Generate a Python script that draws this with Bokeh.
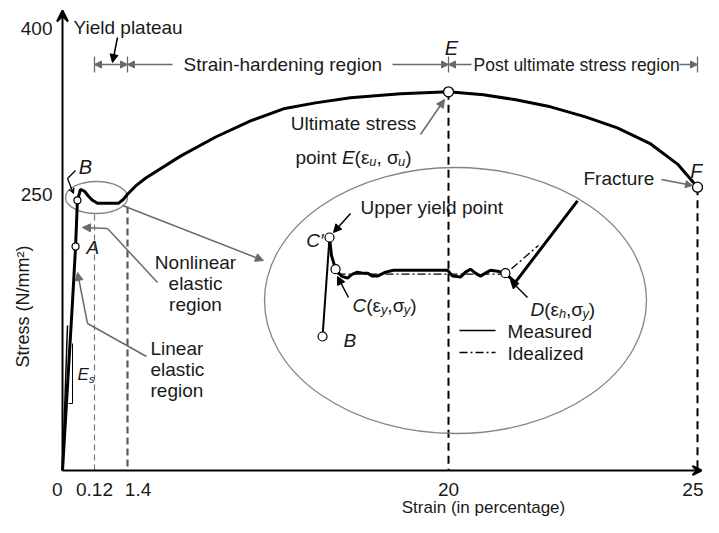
import numpy as np
from bokeh.plotting import figure
from bokeh.models import Range1d, Arrow, VeeHead, NormalHead, Label, FixedTicker
from bokeh.embed import file_html
from bokeh.resources import INLINE

# ---------------- data ----------------
strain_ticks = [0, 0.12, 1.4, 20, 25]
strain_tick_labels = ["0", "0.12", "1.4", "20", "25"]
stress_ticks = [250, 400]

# measured stress-strain curve (strain in %, stress in N/mm2)
curve_strain = [0, 0.0375, 0.049, 0.0525, 0.056, 0.0675, 0.0825, 0.0975, 0.1125, 0.236,
                1.047, 1.245, 1.4, 1.86, 2.44, 4.47, 6.51, 8.53, 10.44, 12.29, 14.32,
                17.22, 20.0, 20.7, 21.35, 22.05, 22.75, 23.39, 24.06, 24.6, 25.0]
curve_stress = [0, 152.7, 202.7, 223.6, 244.5, 254.5, 252.7, 248.2, 244.5, 241.8,
                241.8, 245.5, 250.0, 257.3, 264.5, 284.5, 301.8, 316.4, 327.3, 332.7, 337.3,
                340.9, 342.7, 340.0, 335.5, 329.1, 320.0, 310.0, 295.5, 277.3, 256.4]

# marked points on main curve
pt_names = ["A", "B", "E", "F"]
pt_strain = [0.049, 0.056, 20.0, 25.0]
pt_stress = [202.7, 244.5, 342.7, 256.4]

# magnified yield-plateau (inset)
inset_meas_strain = [0.066, 0.117, 0.131, 0.161, 0.204, 0.248, 0.285, 0.321, 0.358, 0.394,
                     0.431, 0.467, 0.526, 0.584, 0.978, 1.015, 1.073, 1.109, 1.146, 1.182,
                     1.219, 1.255, 1.292, 1.343, 1.401, 1.438, 1.474, 1.927]
inset_meas_stress = [250.0, 260.0, 258.2, 256.8, 256.1, 255.9, 256.3, 256.5, 256.4, 256.4,
                     256.1, 256.1, 256.5, 256.7, 256.7, 256.1, 256.0, 256.5, 256.8, 256.4,
                     256.1, 256.4, 256.7, 256.6, 256.4, 255.9, 255.5, 263.7]
inset_ideal_strain = [0.175, 1.401, 1.642]
inset_ideal_stress = [256.3, 256.3, 259.2]
inset_pt_names = ["B", "C'", "C", "D"]
inset_pt_strain = [0.066, 0.117, 0.161, 1.401]
inset_pt_stress = [250.0, 260.0, 256.8, 256.4]

# ---------------- layout helpers ----------------
W, H = 703, 517
X0, Y0, KY = 62, 470, 1.105          # canvas position of origin, px per stress unit
knot_pos = [0, 32, 65, 386, 635]      # schematic (broken) strain axis

def warp(s):
    return np.interp(s, strain_ticks, knot_pos)

def d(px, py):
    return (px - X0, (Y0 - py) / KY)

IX0, IKX, IY0, IKY = 313, 137, 336, 9.9   # inset magnification

def inset(s, sig):
    s = np.asarray(s, float); sig = np.asarray(sig, float)
    px = IX0 + s * IKX
    py = IY0 - (sig - 250) * IKY
    return px - X0, (Y0 - py) / KY

FONT = "Liberation Sans"
TC = "#1a1a1a"
GRAY = "#6a6a6a"
EG = "#858585"
FS = 19

p = figure(width=W, height=H, output_backend="svg", toolbar_location=None,
           x_range=Range1d(-X0, W - X0), y_range=Range1d((Y0 - H) / KY, Y0 / KY),
           min_border=0)
p.outline_line_color = None
p.grid.visible = False
p.background_fill_color = "white"
p.border_fill_color = "white"

for ax in (p.xaxis, p.yaxis):
    ax.fixed_location = 0
    ax.axis_line_color = None
    ax.major_tick_line_color = None
    ax.minor_tick_line_color = None
    ax.major_label_text_font = FONT
    ax.major_label_text_font_size = "19px"
    ax.major_label_text_color = TC

xt = [float(v) for v in warp(strain_ticks)]
p.xaxis.ticker = FixedTicker(ticks=xt)
pads = {"0": "0\u00a0\u00a0", "1.4": "\u00a0\u00a0\u00a0\u00a01.4"}
p.xaxis.major_label_overrides = {t: pads.get(l, l) for t, l in zip(xt, strain_tick_labels)}
p.xaxis.major_label_standoff = 2
p.yaxis.ticker = FixedTicker(ticks=stress_ticks)
p.yaxis.major_label_standoff = 4

# axis lines with arrow heads
ytop = d(0, 10)[1]
p.add_layout(Arrow(end=VeeHead(size=11, line_color="black", line_width=2), x_start=0, y_start=0,
                   x_end=0, y_end=ytop, line_color="black", line_width=2))
p.add_layout(Arrow(end=VeeHead(size=9, line_color="black", line_width=2), x_start=0, y_start=0,
                   x_end=W - X0 - 2, y_end=0, line_color="black", line_width=2))

def line(pts, **kw):
    xs, ys = zip(*[d(*q) for q in pts])
    p.line(list(xs), list(ys), **kw)

def arrow(a, b, color=GRAY, size=8, width=1.5, both=False):
    (x1, y1), (x2, y2) = d(*a), d(*b)
    head = lambda: NormalHead(size=size, fill_color=color, line_color=color, line_width=1)
    p.add_layout(Arrow(start=head() if both else None, end=head(), x_start=x1, y_start=y1,
                       x_end=x2, y_end=y2, line_color=color, line_width=width))

def label(px, py, text, size=FS, align="left", italic=False):
    x, y = d(px, py)
    p.add_layout(Label(x=x, y=y, text=text, text_font=FONT, text_font_size=f"{size}px",
                       text_align=align, text_baseline="middle", text_color=TC,
                       text_font_style="italic" if italic else "normal"))

CW = {" ": 278, "(": 333, ")": 333, ",": 278, "C": 722, "D": 722, "E": 667, "p": 556, "o": 556,
      "i": 222, "n": 556, "t": 278, "y": 500, "h": 556, "u": 556, "s": 500,
      "\u03b5": 440, "\u03c3": 580}

def rich(px, py, parts, size=FS, align="left"):
    segs, total = [], 0.0
    for t, it, sub in parts:
        fs = size * 0.68 if sub else size
        w = sum(CW.get(c, 556) for c in t) * fs / 1000
        lead = (len(t) - len(t.lstrip(" "))) * 278 * fs / 1000
        segs.append((t.strip(" "), it, sub, fs, w, lead))
        total += w
    x = px - total / 2 if align == "center" else px
    base = py + 0.36 * size
    for t, it, sub, fs, w, lead in segs:
        by = base + (0.24 * size if sub else 0)
        xx, yy = d(x + lead, by)
        p.add_layout(Label(x=xx, y=yy, text=t, text_font=FONT, text_font_size=f"{fs:.1f}px",
                           text_align="left", text_baseline="alphabetic", text_color=TC,
                           text_font_style="italic" if it else "normal"))
        x += w

# ---------------- vertical dashed guides ----------------
gx = warp(strain_ticks)
p.segment(x0=[gx[1]], y0=[d(0, 214)[1]], x1=[gx[1]], y1=[0], line_color="#777777", line_width=1.2, line_dash="6 4")
p.segment(x0=[gx[2]], y0=[d(0, 206)[1]], x1=[gx[2]], y1=[0], line_color="#5a5a5a", line_width=2.2, line_dash="7 4")
p.segment(x0=[gx[3]], y0=[pt_stress[2]], x1=[gx[3]], y1=[0], line_color="black", line_width=2, line_dash="8 5")
p.segment(x0=[gx[4]], y0=[pt_stress[3]], x1=[gx[4]], y1=[0], line_color="black", line_width=2, line_dash="8 5")

# ---------------- ellipses ----------------
sx, sy = d(96, 197)
p.ellipse(x=[sx], y=[sy], width=[62], height=[32 / KY], fill_color=None, line_color=EG, line_width=1.3)
bx, by_ = d(455, 300)
p.ellipse(x=[bx], y=[by_], width=[382], height=[266 / KY], fill_color=None, line_color=EG, line_width=1.3)

# ---------------- main curve ----------------
p.line(warp(curve_strain), curve_stress, line_color="black", line_width=3)
# E_s slope marker
line([(62, 470), (67, 325)], line_color="black", line_width=1.5)
line([(68, 403), (72, 403), (72, 343)], line_color="black", line_width=1)

p.scatter(warp(pt_strain[:2]), pt_stress[:2], size=7, marker="circle", fill_color="white",
          line_color="black", line_width=1.2)
p.scatter(warp(pt_strain[2:]), pt_stress[2:], size=10, marker="circle", fill_color="white",
          line_color="black", line_width=1.3)

# ---------------- inset ----------------
ix, iy = inset(inset_meas_strain, inset_meas_stress)
p.line(ix[:2], iy[:2], line_color="black", line_width=2)
p.line(ix[1:], iy[1:], line_color="black", line_width=3)
jx, jy = inset(inset_ideal_strain, inset_ideal_stress)
p.line(jx, jy, line_color="black", line_width=1.3, line_dash="8 3 2 3")
kx, ky = inset(inset_pt_strain, inset_pt_stress)
p.scatter(kx, ky, size=9, marker="circle", fill_color="white", line_color="black", line_width=1.2)

# legend
line([(459, 330), (495, 330)], line_color="black", line_width=1.5)
line([(459, 352), (495, 352)], line_color="black", line_width=1.3, line_dash="8 3 2 3")
label(507, 331, "Measured")
label(507, 353, "Idealized")

# ---------------- region dimension line ----------------
DY = 64
for gxp in gx[1:]:
    line([(X0 + gxp, DY - 8), (X0 + gxp, DY + 8)], line_color=GRAY, line_width=1.3)
arrow((X0 + gx[1], DY), (X0 + gx[2], DY), size=7, both=True)
arrow((172, DY), (X0 + gx[2], DY), size=7)
arrow((392, DY), (X0 + gx[3], DY), size=7)
arrow((471, DY), (X0 + gx[3], DY), size=7)
arrow((679, DY), (X0 + gx[4], DY), size=7)
label(183, 64, "Strain-hardening region")
label(473, 64, "Post ultimate stress region", size=17.5)
label(73, 27, "Yield plateau")
arrow((117, 37), (112, 62), color="black", size=8, width=1.5)
label(451, 47, "E", size=20, align="center", italic=True)

# ---------------- annotations ----------------
label(353, 123, "Ultimate stress", align="center")
rich(353, 150, [("point ", False, False), ("E", True, False), ("(\u03b5", False, False), ("u", True, True),
                (", \u03c3", False, False), ("u", True, True), (")", False, False)], align="center")
arrow((420, 134), (444, 99))
label(583, 178, "Fracture")
arrow((661, 179), (692, 185), size=7)
label(702, 170, "F", size=20, align="right", italic=True)

label(85, 166, "B", size=20, align="center", italic=True)
line([(75, 170), (67, 178)], line_color="black", line_width=1.3)
p.add_layout(Arrow(end=VeeHead(size=5, line_color="black"), x_start=d(67, 178)[0], y_start=d(67, 178)[1],
                   x_end=d(73, 193)[0], y_end=d(73, 193)[1], line_color="black", line_width=1.3))
label(86, 247, "A", italic=True)
rich(77, 368, [("E", True, False), ("s", True, True)], size=17)

label(195, 262, "Nonlinear", align="center")
label(195, 283, "elastic", align="center")
label(195, 304, "region", align="center")
line([(157, 282), (107, 228)], line_color=GRAY, line_width=1.5)
arrow((107, 228), (82, 227))

label(150, 348, "Linear")
label(150, 369, "elastic")
label(150, 390, "region")
line([(146, 356), (87, 323)], line_color=GRAY, line_width=1.5)
arrow((87, 323), (77, 272))

arrow((122, 205), (263, 260))

# inset labels
label(360, 207, "Upper yield point")
arrow((350, 213), (333, 232), color="black", size=8)
label(323, 240, "C\u2032", align="right", italic=True)
label(343, 340, "B", italic=True)
rich(352, 298, [("C", True, False), ("(\u03b5", False, False), ("y", True, True), (",\u03c3", False, False),
                ("y", True, True), (")", False, False)])
arrow((348, 297), (337, 276), color="black", size=8)
rich(530, 302, [("D", True, False), ("(\u03b5", False, False), ("h", True, True), (",\u03c3", False, False),
                ("y", True, True), (")", False, False)])
arrow((527, 297), (510, 280), color="black", size=8)

# ---------------- axis titles ----------------
ax_, ay_ = d(22, 306)
p.add_layout(Label(x=ax_, y=ay_, text="Stress (N/mm\u00b2)", angle=np.pi / 2, text_font=FONT,
                   text_font_size="18px", text_align="center", text_baseline="middle", text_color=TC))
bx2, by2 = d(483, 507)
p.add_layout(Label(x=bx2, y=by2, text="Strain (in percentage)", text_font=FONT,
                   text_font_size="17px", text_align="center", text_baseline="middle", text_color=TC))

open("out.html", "w").write(file_html(p, INLINE))
